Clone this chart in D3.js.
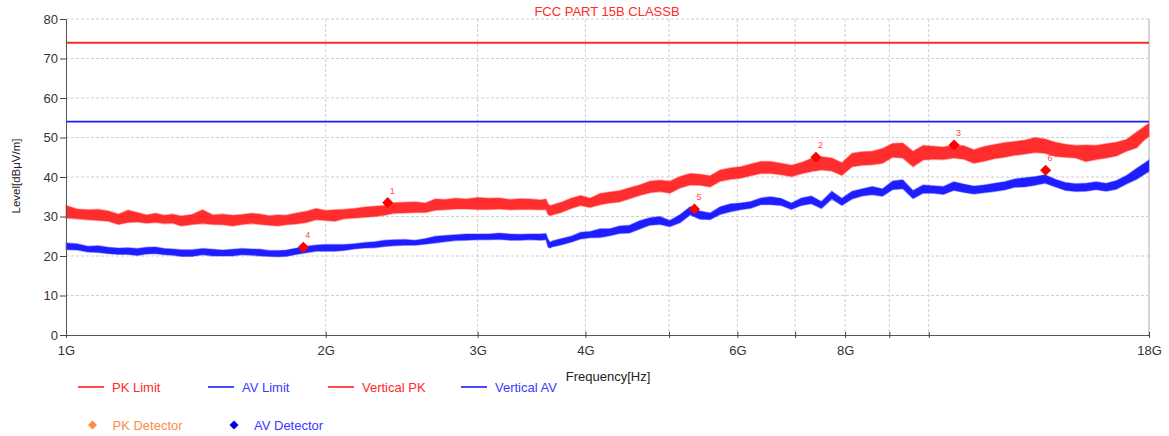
<!DOCTYPE html>
<html>
<head>
<meta charset="utf-8">
<script src="https://cdn.jsdelivr.net/npm/d3@7"></script>
<style>
  body { margin: 0; background: #fff; }
  svg text { font-family: Arial, "Liberation Sans", sans-serif; }
</style>
</head>
<body>
<svg id="chart" width="1169" height="436"></svg>
<script>
// sweep points (GHz)
const freqGHz = [1.00,1.03,1.06,1.09,1.12,1.15,1.18,1.21,1.24,1.27,1.30,1.33,1.36,1.40,1.44,1.48,1.52,1.56,1.60,1.64,1.68,1.72,1.76,1.80,1.85,1.90,1.95,2.00,2.05,2.10,2.16,2.22,2.28,2.34,2.40,2.47,2.54,2.61,2.68,2.75,2.83,2.91,3.00,3.09,3.18,3.27,3.36,3.45,3.55,3.60,3.62,3.64,3.66,3.75,3.85,3.95,4.05,4.16,4.27,4.38,4.50,4.62,4.75,4.88,5.01,5.15,5.29,5.43,5.58,5.73,5.89,6.05,6.22,6.39,6.56,6.74,6.93,7.12,7.31,7.51,7.72,7.93,8.15,8.37,8.60,8.84,9.08,9.33,9.59,9.85,10.12,10.40,10.69,10.98,11.28,11.59,11.91,12.24,12.58,12.92,13.28,13.64,14.02,14.40,14.80,15.21,15.63,16.06,16.50,16.95,17.42,17.70,18.00];

// Vertical PK trace, lower / upper edge of the noise band (dBµV/m)
const pkLow = [29.6,29.4,29.2,29.0,28.8,28.0,28.5,28.6,28.3,28.5,28.2,28.3,27.6,28.0,28.2,28.0,27.9,27.6,28.0,28.2,28.0,27.8,27.6,27.9,28.1,28.5,29.2,29.0,28.8,29.4,29.6,29.8,30.0,30.3,30.8,30.9,31.0,31.0,31.6,31.7,31.9,31.9,31.8,31.8,31.9,31.7,31.8,31.8,31.7,31.8,30.5,30.2,30.4,31.0,32.0,32.8,32.3,33.0,33.4,33.7,34.5,35.3,36.0,36.3,35.9,37.2,38.0,37.9,37.5,38.9,39.4,39.7,40.3,40.9,40.9,40.6,40.1,40.8,41.4,41.8,41.5,40.4,42.6,43.0,43.1,43.5,45.0,44.8,42.6,44.3,44.5,44.4,44.8,44.5,43.5,44.0,44.6,45.0,45.5,45.8,46.2,46.0,45.2,45.0,44.8,43.9,44.4,44.8,45.3,46.5,47.4,49.0,50.3];
const pkHigh = [32.8,31.9,31.7,31.8,31.4,30.6,31.6,31.0,30.4,30.8,30.3,30.6,30.1,30.5,31.7,30.4,30.6,30.3,30.5,30.8,30.6,30.2,30.4,30.3,30.9,31.3,32.0,31.5,31.7,31.8,32.0,32.4,32.6,32.8,33.5,33.6,33.7,33.4,34.4,34.3,34.6,34.4,34.8,34.6,34.7,34.3,34.5,34.4,34.2,34.4,33.2,32.7,32.9,33.6,34.6,35.3,34.6,35.8,36.2,36.5,37.3,38.0,38.9,39.2,38.9,40.1,40.9,40.7,40.3,41.8,42.3,42.6,43.3,43.9,43.9,43.5,43.0,43.7,44.7,45.1,44.8,43.6,46.0,46.4,46.5,47.2,48.5,48.6,46.5,48.0,47.8,47.6,48.1,47.9,46.9,47.7,48.2,48.7,49.0,49.3,50.0,49.6,48.8,48.3,48.0,48.1,48.0,48.4,48.8,49.5,51.4,52.5,53.6];

// Vertical AV trace
const avLow = [21.6,21.5,21.0,20.9,20.6,20.4,20.4,20.1,20.5,20.6,20.3,20.2,19.9,19.9,20.3,20.0,20.0,20.0,20.3,20.2,20.0,19.9,19.8,19.9,20.4,20.8,21.2,21.2,21.2,21.4,21.8,22.0,22.1,22.4,22.6,22.7,22.7,23.0,23.3,23.6,23.9,24.0,24.1,24.1,24.2,24.0,24.0,24.1,24.0,24.1,22.2,22.0,22.3,22.8,23.5,24.3,24.6,24.7,25.1,25.7,25.8,26.8,27.8,28.0,27.4,28.4,30.4,29.3,29.2,30.5,31.2,31.7,32.1,33.0,33.0,32.8,31.8,32.8,33.2,32.0,34.4,32.8,34.4,35.2,35.5,35.1,36.8,37.0,34.5,35.9,35.9,35.6,36.6,36.1,35.7,36.0,36.3,36.7,37.4,37.5,37.9,38.4,37.5,36.6,36.3,36.4,36.8,36.4,36.9,38.2,39.4,40.4,41.4];
const avHigh = [23.3,23.1,22.5,22.6,22.2,22.0,22.1,21.9,22.2,22.3,21.9,21.8,21.6,21.6,21.9,21.7,21.5,21.7,21.9,21.8,21.7,21.4,21.4,21.5,22.0,22.5,22.8,22.9,22.9,22.9,23.1,23.4,23.6,24.0,24.1,24.2,24.0,24.4,25.0,25.2,25.4,25.6,25.6,25.6,25.8,25.6,25.5,25.6,25.6,25.7,24.3,23.5,23.8,24.4,25.0,26.0,26.2,26.9,26.9,27.6,27.8,28.9,29.7,30.0,29.0,30.5,32.5,31.4,30.9,32.5,33.2,33.4,33.8,34.7,35.0,34.6,33.4,34.7,35.2,33.8,36.4,34.6,36.4,37.0,37.6,37.0,39.0,39.3,36.6,38.0,37.8,37.6,38.8,38.2,37.7,38.0,38.4,38.8,39.5,39.8,40.1,40.6,39.4,38.6,38.3,38.4,38.8,38.4,39.1,40.4,42.2,43.2,44.3];

// limits
const pkLimit = 74;
const avLimit = 54;

// final measurement markers
const markerLabel = ["1", "2", "3", "4", "5", "6"];
const markerFreq = [2.36, 7.40, 10.70, 1.884, 5.35, 13.66];
const markerLevel = [33.5, 45.0, 48.1, 22.2, 31.9, 41.7];

// axes
const yTicks = [0, 10, 20, 30, 40, 50, 60, 70, 80];
const xTicks = [1, 2, 3, 4, 5, 6, 7, 8, 9, 10, 18];
const xTickLabels = { 1: "1G", 2: "2G", 3: "3G", 4: "4G", 6: "6G", 8: "8G", 18: "18G" };

const legendLines = [
  { name: "PK Limit", color: "#ff2020", text: "#ff2828" },
  { name: "AV Limit", color: "#1c1cff", text: "#3a3aff" },
  { name: "Vertical PK", color: "#ff2020", text: "#ff2828" },
  { name: "Vertical AV", color: "#1c1cff", text: "#3a3aff" },
];
const legendMarks = [
  { name: "PK Detector", color: "#ff8a4a", text: "#ff8a4a" },
  { name: "AV Detector", color: "#0000e0", text: "#3a3aff" },
];

class ChartD3 {
  constructor(svgEl) {
    this.svg = d3.select(svgEl);
    this.margin = { top: 19, right: 20, bottom: 101, left: 66 };
    this.width = 1169;
    this.height = 436;
    this.plotRight = this.width - this.margin.right; // 1149
    this.plotBottom = this.height - this.margin.bottom; // 335

    this.xScale = d3.scaleLog().domain([1, 18]).range([this.margin.left, this.plotRight]);
    this.yScale = d3.scaleLinear().domain([0, 80]).range([this.plotBottom, this.margin.top]);

    this.renderGrid();
    this.renderLimits();
    this.renderMarkerLabels();
    this.renderTraces();
    this.renderMarkers();
    this.renderXaxis();
    this.renderYaxis();
    this.renderTexts();
    this.renderLegend();
  }

  renderGrid() {
    let g = this.svg.append("g").attr("class", "grid");
    g.selectAll("line.h")
      .data(yTicks.filter((d) => d > 0))
      .join("line")
      .attr("x1", this.margin.left)
      .attr("x2", this.plotRight)
      .attr("y1", (d) => this.yScale(d))
      .attr("y2", (d) => this.yScale(d))
      .attr("stroke", "#cfcfcf")
      .attr("stroke-dasharray", "3,2");
    g.selectAll("line.v")
      .data(xTicks.filter((d) => d > 1 && d < 18))
      .join("line")
      .attr("x1", (d) => this.xScale(d))
      .attr("x2", (d) => this.xScale(d))
      .attr("y1", this.margin.top)
      .attr("y2", this.plotBottom)
      .attr("stroke", "#cfcfcf")
      .attr("stroke-dasharray", "3,2");
    // right frame
    g.append("line")
      .attr("x1", this.plotRight)
      .attr("x2", this.plotRight)
      .attr("y1", this.margin.top)
      .attr("y2", this.plotBottom)
      .attr("stroke", "#d6d6d6")
      .attr("stroke-width", 2);
  }

  renderLimits() {
    let g = this.svg.append("g");
    g.append("line")
      .attr("x1", this.margin.left).attr("x2", this.plotRight)
      .attr("y1", this.yScale(pkLimit)).attr("y2", this.yScale(pkLimit))
      .attr("stroke", "#ff2a2a").attr("stroke-width", 2);
    g.append("line")
      .attr("x1", this.margin.left).attr("x2", this.plotRight)
      .attr("y1", this.yScale(avLimit)).attr("y2", this.yScale(avLimit))
      .attr("stroke", "#1c1cff").attr("stroke-width", 1.8);
  }

  renderTraces() {
    let area = d3.area()
      .x((d, i) => this.xScale(freqGHz[i]));
    let g = this.svg.append("g");

    // AV band
    g.append("path")
      .datum(freqGHz)
      .attr("d", area.y0((d, i) => this.yScale(avLow[i])).y1((d, i) => this.yScale(avHigh[i])))
      .attr("fill", "#0a0aff")
      .attr("fill-opacity", 0.92)
      .attr("stroke", "#3a3aff")
      .attr("stroke-opacity", 0.4)
      .attr("stroke-width", 1.4);

    // PK band
    g.append("path")
      .datum(freqGHz)
      .attr("d", area.y0((d, i) => this.yScale(pkLow[i])).y1((d, i) => this.yScale(pkHigh[i])))
      .attr("fill", "#ff1010")
      .attr("fill-opacity", 0.88)
      .attr("stroke", "#ff3a3a")
      .attr("stroke-opacity", 0.4)
      .attr("stroke-width", 1.6);
  }

  renderMarkerLabels() {
    this.svg.append("g")
      .selectAll("text")
      .data(markerLabel)
      .join("text")
      .attr("x", (d, i) => this.xScale(markerFreq[i]) + 4.5)
      .attr("y", (d, i) => this.yScale(markerLevel[i]) - 9)
      .attr("text-anchor", "middle")
      .attr("font-size", "9px")
      .attr("fill", "#ff4a4a")
      .text((d) => d);
  }

  renderMarkers() {
    let sym = d3.symbol().type(d3.symbolSquare).size(62);
    this.svg.append("g")
      .selectAll("path")
      .data(markerLabel)
      .join("path")
      .attr("d", sym)
      .attr("transform", (d, i) =>
        `translate(${this.xScale(markerFreq[i])},${this.yScale(markerLevel[i])}) rotate(45)`)
      .attr("fill", "#ff0000");
  }

  renderXaxis() {
    let xAxisGenerator = d3.axisBottom(this.xScale)
      .tickValues(xTicks)
      .tickFormat((d) => xTickLabels[d] || "")
      .tickSizeOuter(0)
      .tickSize(3)
      .tickPadding(8);
    let gx = this.svg.append("g")
      .attr("transform", `translate(0, ${this.plotBottom})`)
      .call(xAxisGenerator);
    gx.select(".domain").attr("stroke", "#555");
    gx.selectAll(".tick line").attr("y1", -3).attr("stroke", "#444");
    gx.selectAll(".tick text").attr("font-size", "13px").attr("fill", "#333");
  }

  renderYaxis() {
    let yAxisGenerator = d3.axisLeft(this.yScale)
      .tickValues(yTicks)
      .tickSizeOuter(0)
      .tickSize(6)
      .tickPadding(2);
    let gy = this.svg.append("g")
      .attr("transform", `translate(${this.margin.left}, 0)`)
      .call(yAxisGenerator);
    gy.select(".domain").attr("stroke", "#555");
    gy.selectAll(".tick line").attr("stroke", "#444");
    gy.selectAll(".tick text").attr("font-size", "13px").attr("fill", "#333");
  }

  renderTexts() {
    this.svg.append("text")
      .attr("x", 607).attr("y", 15.5)
      .attr("text-anchor", "middle")
      .attr("font-size", "13px")
      .attr("fill", "#ff2a2a")
      .text("FCC PART 15B CLASSB");

    this.svg.append("text")
      .attr("x", 608).attr("y", 381)
      .attr("text-anchor", "middle")
      .attr("font-size", "13px")
      .attr("fill", "#222")
      .text("Frequency[Hz]");

    this.svg.append("text")
      .attr("transform", "translate(20,176) rotate(-90)")
      .attr("text-anchor", "middle")
      .attr("font-size", "11.5px")
      .attr("fill", "#222")
      .text("Level[dBμV/m]");
  }

  renderLegend() {
    let lineX = [78, 208, 328, 461];
    let row1 = this.svg.append("g");
    legendLines.forEach((d, i) => {
      row1.append("line")
        .attr("x1", lineX[i]).attr("x2", lineX[i] + 26)
        .attr("y1", 387).attr("y2", 387)
        .attr("stroke", d.color).attr("stroke-width", 1.6);
      row1.append("text")
        .attr("x", lineX[i] + 34).attr("y", 392)
        .attr("font-size", "13px")
        .attr("fill", d.text)
        .text(d.name);
    });

    let markX = [92.5, 234];
    let sym = d3.symbol().type(d3.symbolSquare).size(40);
    let row2 = this.svg.append("g");
    legendMarks.forEach((d, i) => {
      row2.append("path")
        .attr("d", sym)
        .attr("transform", `translate(${markX[i]},425) rotate(45)`)
        .attr("fill", d.color);
      row2.append("text")
        .attr("x", markX[i] + 20).attr("y", 430)
        .attr("font-size", "13px")
        .attr("fill", d.text)
        .text(d.name);
    });
  }
}

new ChartD3(document.getElementById("chart"));
</script>
</body>
</html>
